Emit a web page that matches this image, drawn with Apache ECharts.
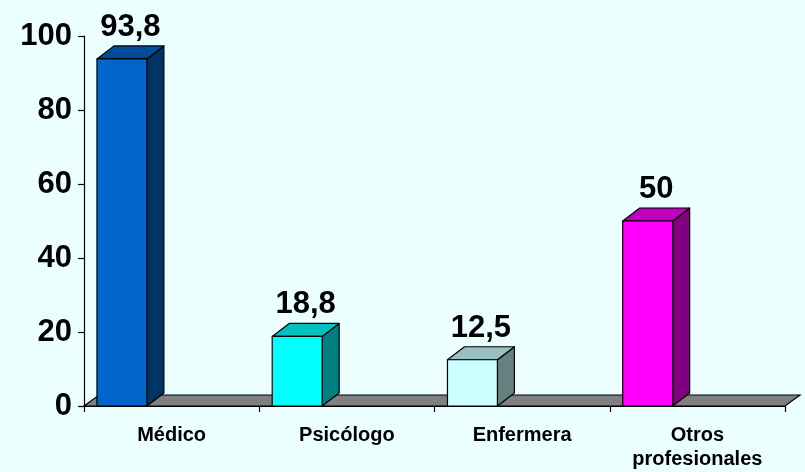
<!DOCTYPE html>
<html>
<head>
<meta charset="utf-8">
<script src="https://cdn.jsdelivr.net/npm/echarts@6/dist/echarts.min.js"></script>
<style>
html,body{margin:0;padding:0;background:#EBFFFF;}
#chart{width:805px;height:472px;}
</style>
</head>
<body>
<div id="chart"></div>
<script>
const categories = ['Médico', 'Psicólogo', 'Enfermera', 'Otros\nprofesionales'];
const values = [93.8, 18.8, 12.5, 50];
const valueLabels = ['93,8', '18,8', '12,5', '50'];
const yTicks = [0, 20, 40, 60, 80, 100];

const frontColors = ['#0066CC', '#00FFFF', '#CCFFFF', '#FF00FF'];
const sideColors = ['#003366', '#008080', '#668080', '#800080'];
const topColors = ['#004C99', '#00C0C0', '#99C0C0', '#C000C0'];

const FONT = '"Liberation Sans", Arial, sans-serif';
const DX = 17, DY = -13;

const chart = echarts.init(document.getElementById('chart'));

function renderBar(params, api) {
  const idx = api.value(0);
  const val = api.value(1);
  const top = api.coord([idx, val]);
  const base = api.coord([idx, 0]);
  const bw = api.size([1, 0])[0];
  const left = top[0] - bw / 2 + 0.074 * bw;
  const w = 0.285 * bw;
  const right = left + w;
  const ty = top[1], by = base[1];
  const stroke = {stroke: '#000', lineWidth: 1.2, lineJoin: 'round'};
  return {
    type: 'group',
    children: [
      {type: 'polygon', shape: {points: [[right, by], [right + DX, by + DY], [right + DX, ty + DY], [right, ty]]},
        style: Object.assign({fill: sideColors[idx]}, stroke)},
      {type: 'polygon', shape: {points: [[left, ty], [right, ty], [right + DX, ty + DY], [left + DX, ty + DY]]},
        style: Object.assign({fill: topColors[idx]}, stroke)},
      {type: 'rect', shape: {x: left, y: ty, width: w, height: by - ty},
        style: Object.assign({fill: frontColors[idx]}, stroke)},
      {type: 'text', x: left + (w + DX) / 2, y: ty + DY - 3,
        style: {text: valueLabels[idx], font: 'bold 31px ' + FONT, fill: '#000',
          align: 'center', verticalAlign: 'bottom', textAlign: 'center', textVerticalAlign: 'bottom'}}
    ]
  };
}

function renderFloor(params, api) {
  const cs = params.coordSys;
  const x0 = cs.x, x1 = cs.x + cs.width;
  const y0 = cs.y + cs.height;
  const fdx = 15, fdy = -11;
  return {
    type: 'polygon',
    shape: {points: [[x0, y0], [x1, y0], [x1 + fdx, y0 + fdy], [x0 + fdx, y0 + fdy]]},
    style: {fill: '#808080', stroke: '#000', lineWidth: 1.2}
  };
}

chart.setOption({
  backgroundColor: '#EBFFFF',
  animation: false,
  grid: {left: 84, right: 20, top: 36, bottom: 66},
  xAxis: {
    type: 'category',
    data: categories,
    axisLine: {show: true, lineStyle: {color: '#000', width: 1.2}},
    axisTick: {show: true, length: 6, lineStyle: {color: '#000', width: 1.2}},
    axisLabel: {margin: 17, fontSize: 20, fontWeight: 'bold', fontFamily: FONT, color: '#000', lineHeight: 24, interval: 0}
  },
  yAxis: {
    type: 'value',
    min: 0, max: 100, interval: 20,
    axisLine: {show: true, lineStyle: {color: '#000', width: 1.2}},
    axisTick: {show: true, length: 6, lineStyle: {color: '#000', width: 1.2}},
    splitLine: {show: false},
    axisLabel: {margin: 12, fontSize: 31, fontWeight: 'bold', fontFamily: FONT, color: '#000',
      formatter: v => yTicks.indexOf(v) >= 0 ? String(v) : ''}
  },
  series: [
    {type: 'custom', renderItem: renderFloor, data: [[0, 0]], z: 1, silent: true},
    {type: 'custom', renderItem: renderBar, data: values.map((v, i) => [i, v]), z: 3}
  ]
});
</script>
</body>
</html>
